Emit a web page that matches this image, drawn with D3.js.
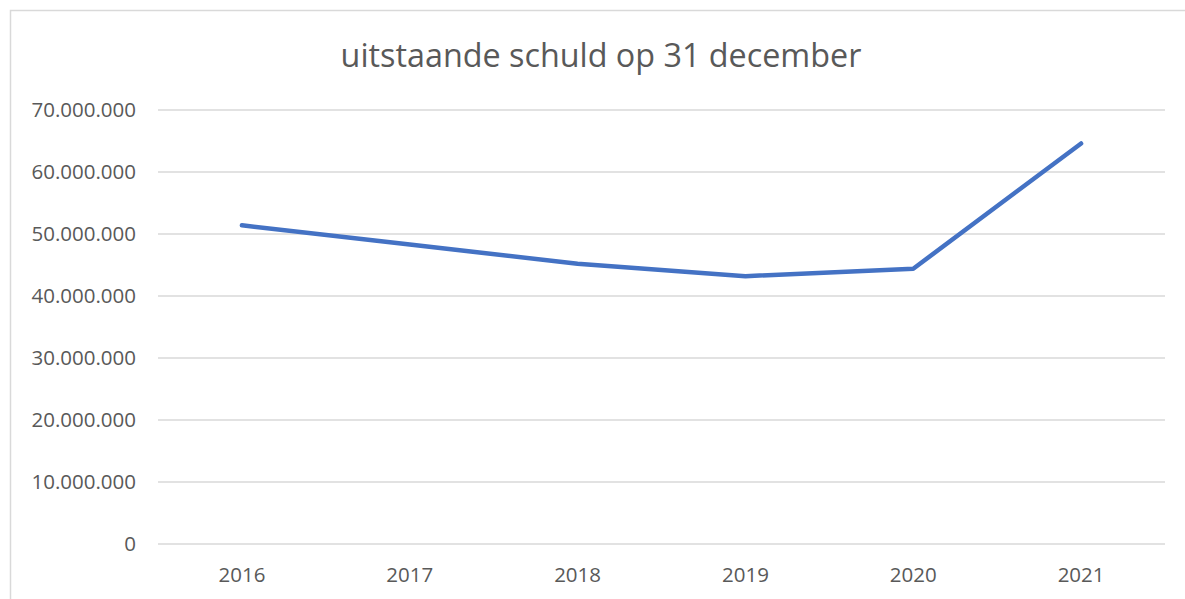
<!DOCTYPE html>
<html>
<head>
<meta charset="utf-8">
<script src="https://cdn.jsdelivr.net/npm/d3@7"></script>
<style>
  html, body { margin: 0; padding: 0; background: #fff; }
  svg { display: block; }
</style>
</head>
<body>
<svg id="chart" width="1185" height="599"></svg>
<script>
// Outstanding debt at 31 December, per year
const years = ["2016", "2017", "2018", "2019", "2020", "2021"];
const debt = [51400000, 48300000, 45200000, 43200000, 44400000, 64600000];
const yTicks = [0, 10000000, 20000000, 30000000, 40000000, 50000000, 60000000, 70000000];
const title = "uitstaande schuld op 31 december";

const svg = d3.select("#chart");
const W = 1185, H = 599;
const font = "'Open Sans', 'Noto Sans', sans-serif";
const labelSize = 20.5;

// chart frame (left and top edge visible)
svg.append("rect")
  .attr("x", 10.5).attr("y", 10.5)
  .attr("width", W + 20).attr("height", H + 20)
  .attr("fill", "#fff")
  .attr("stroke", "#d9d9d9").attr("stroke-width", 1.5);

const plot = { left: 158, right: 1165, top: 110, bottom: 544 };

const x = d3.scaleBand().domain(years).range([plot.left, plot.right]);
const y = d3.scaleLinear().domain([0, 70000000]).range([plot.bottom, plot.top]);

// Dutch number formatting: dots as thousands separator
const nl = d3.formatLocale({ decimal: ",", thousands: ".", grouping: [3], currency: ["€", ""] });
const fmt = nl.format(",d");

// horizontal gridlines
svg.append("g")
  .selectAll("line")
  .data(yTicks)
  .join("line")
  .attr("x1", plot.left).attr("x2", plot.right)
  .attr("y1", d => y(d)).attr("y2", d => y(d))
  .attr("stroke", "#d9d9d9").attr("stroke-width", 1.3);

// y-axis labels
const yAxis = svg.append("g")
  .attr("transform", `translate(${plot.left},0)`)
  .call(d3.axisLeft(y).tickValues(yTicks).tickFormat(fmt).tickSize(0).tickPadding(22));
yAxis.select(".domain").remove();
yAxis.selectAll("text")
  .attr("font-family", font).attr("font-size", labelSize).attr("fill", "#595959");

// x-axis labels
const xAxis = svg.append("g")
  .attr("transform", `translate(0,${plot.bottom})`)
  .call(d3.axisBottom(x).tickSize(0).tickPadding(23));
xAxis.select(".domain").remove();
xAxis.selectAll("text")
  .attr("font-family", font).attr("font-size", labelSize).attr("fill", "#595959");

// data line
const line = d3.line()
  .x((d, i) => x(years[i]) + x.bandwidth() / 2)
  .y(d => y(d));

svg.append("path")
  .datum(debt)
  .attr("d", line)
  .attr("fill", "none")
  .attr("stroke", "#4472C4")
  .attr("stroke-width", 4.5)
  .attr("stroke-linejoin", "round")
  .attr("stroke-linecap", "round");

// title, sized to fit its slot
const t = svg.append("text")
  .attr("x", 601).attr("y", 67)
  .attr("text-anchor", "middle")
  .attr("font-family", font)
  .attr("font-size", 30)
  .attr("fill", "#595959")
  .text(title);
const w = t.node().getComputedTextLength();
t.attr("font-size", 30 * 521 / w);
</script>
</body>
</html>
